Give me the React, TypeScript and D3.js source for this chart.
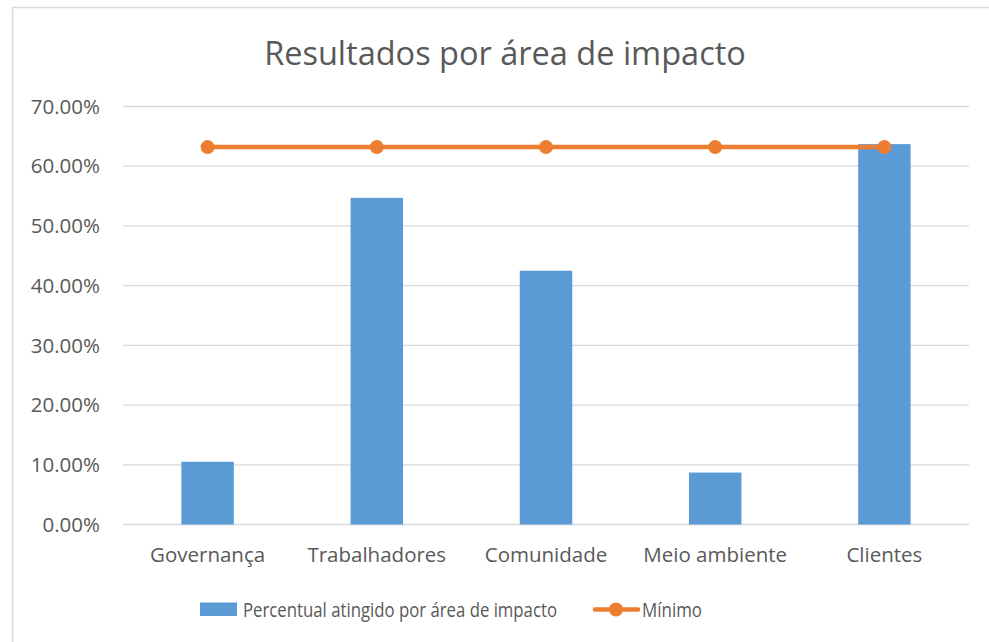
import React, { useRef, useEffect } from 'react';
import * as d3 from 'd3';

const categories = ['Governança', 'Trabalhadores', 'Comunidade', 'Meio ambiente', 'Clientes'];
const percentual = [0.105, 0.547, 0.425, 0.087, 0.637];
const minimo = [0.632, 0.632, 0.632, 0.632, 0.632];
const yTicks = [0, 0.1, 0.2, 0.3, 0.4, 0.5, 0.6, 0.7];

const W = 989;
const H = 642;
const FONT = '"Open Sans", sans-serif';
const TEXT = '#595959';
const BLUE = '#5B9BD5';
const ORANGE = '#ED7D31';

const App = () => {
  const ref = useRef<SVGSVGElement>(null);

  useEffect(() => {
    if (!ref.current) return;
    const svg = d3.select(ref.current);
    svg.selectAll('*').remove();

    const margin = { left: 123, right: 20, top: 106.5, bottom: 117.5 };
    const x = d3.scaleBand().domain(categories).range([margin.left, W - margin.right]).paddingInner(0.69).paddingOuter(0.345);
    const xc = d3.scalePoint().domain(categories).range([margin.left, W - margin.right]).padding(0.5);
    const y = d3.scaleLinear().domain([0, 0.7]).range([H - margin.bottom, margin.top]);

    // chart border
    svg.append('rect')
      .attr('x', 12.5).attr('y', 7.5)
      .attr('width', W).attr('height', H)
      .attr('fill', '#fff').attr('stroke', '#d9d9d9').attr('stroke-width', 1.5);

    // title
    svg.append('text')
      .attr('x', 505).attr('y', 65)
      .attr('text-anchor', 'middle')
      .attr('font-family', FONT).attr('font-size', 32.5)
      .attr('fill', TEXT)
      .text('Resultados por área de impacto');

    // gridlines + y labels
    const g = svg.append('g');
    g.selectAll('.grid')
      .data(yTicks)
      .enter()
      .append('line')
      .attr('x1', margin.left).attr('x2', W - margin.right)
      .attr('y1', d => y(d)).attr('y2', d => y(d))
      .attr('stroke', '#d9d9d9').attr('stroke-width', 1.3);

    g.selectAll('.ylab')
      .data(yTicks)
      .enter()
      .append('text')
      .attr('x', 100).attr('y', d => y(d))
      .attr('dy', '0.35em')
      .attr('text-anchor', 'end')
      .attr('font-family', FONT).attr('font-size', 20.5)
      .attr('fill', TEXT)
      .text(d => d3.format('.2%')(d));

    // bars
    svg.selectAll('.bar')
      .data(percentual)
      .enter()
      .append('rect')
      .attr('x', (d, i) => x(categories[i])!)
      .attr('width', x.bandwidth())
      .attr('y', d => y(d))
      .attr('height', d => y(0) - y(d))
      .attr('fill', BLUE);

    // x labels
    svg.selectAll('.xlab')
      .data(categories)
      .enter()
      .append('text')
      .attr('x', d => xc(d)!)
      .attr('y', 562)
      .attr('text-anchor', 'middle')
      .attr('font-family', FONT).attr('font-size', 20.5)
      .attr('fill', TEXT)
      .text(d => d);

    // minimum line
    const line = d3.line<number>()
      .x((d, i) => xc(categories[i])!)
      .y(d => y(d));
    svg.append('path')
      .datum(minimo)
      .attr('d', line)
      .attr('fill', 'none')
      .attr('stroke', ORANGE).attr('stroke-width', 4.5)
      .attr('stroke-linecap', 'round');
    svg.selectAll('.dot')
      .data(minimo)
      .enter()
      .append('circle')
      .attr('cx', (d, i) => xc(categories[i])!)
      .attr('cy', d => y(d))
      .attr('r', 7)
      .attr('fill', ORANGE);

    // legend
    const leg = svg.append('g');
    leg.append('rect')
      .attr('x', 200).attr('y', 602.5).attr('width', 37).attr('height', 13.5)
      .attr('fill', BLUE);
    leg.append('text')
      .attr('x', 243).attr('y', 609.5).attr('dy', '0.35em')
      .attr('font-family', FONT).attr('font-size', 20.5).attr('fill', TEXT)
      .attr('textLength', 314).attr('lengthAdjust', 'spacingAndGlyphs')
      .text('Percentual atingido por área de impacto');
    leg.append('line')
      .attr('x1', 595).attr('x2', 638).attr('y1', 609.5).attr('y2', 609.5)
      .attr('stroke', ORANGE).attr('stroke-width', 4.5).attr('stroke-linecap', 'round');
    leg.append('circle')
      .attr('cx', 616).attr('cy', 609.5).attr('r', 7).attr('fill', ORANGE);
    leg.append('text')
      .attr('x', 642).attr('y', 609.5).attr('dy', '0.35em')
      .attr('font-family', FONT).attr('font-size', 20.5).attr('fill', TEXT)
      .attr('textLength', 60).attr('lengthAdjust', 'spacingAndGlyphs')
      .text('Mínimo');
  }, []);

  return (
    <svg ref={ref} width={W} height={H}
      style={{ position: 'fixed', left: 0, top: 0, display: 'block', background: '#fff' }} />
  );
};

export default App;
